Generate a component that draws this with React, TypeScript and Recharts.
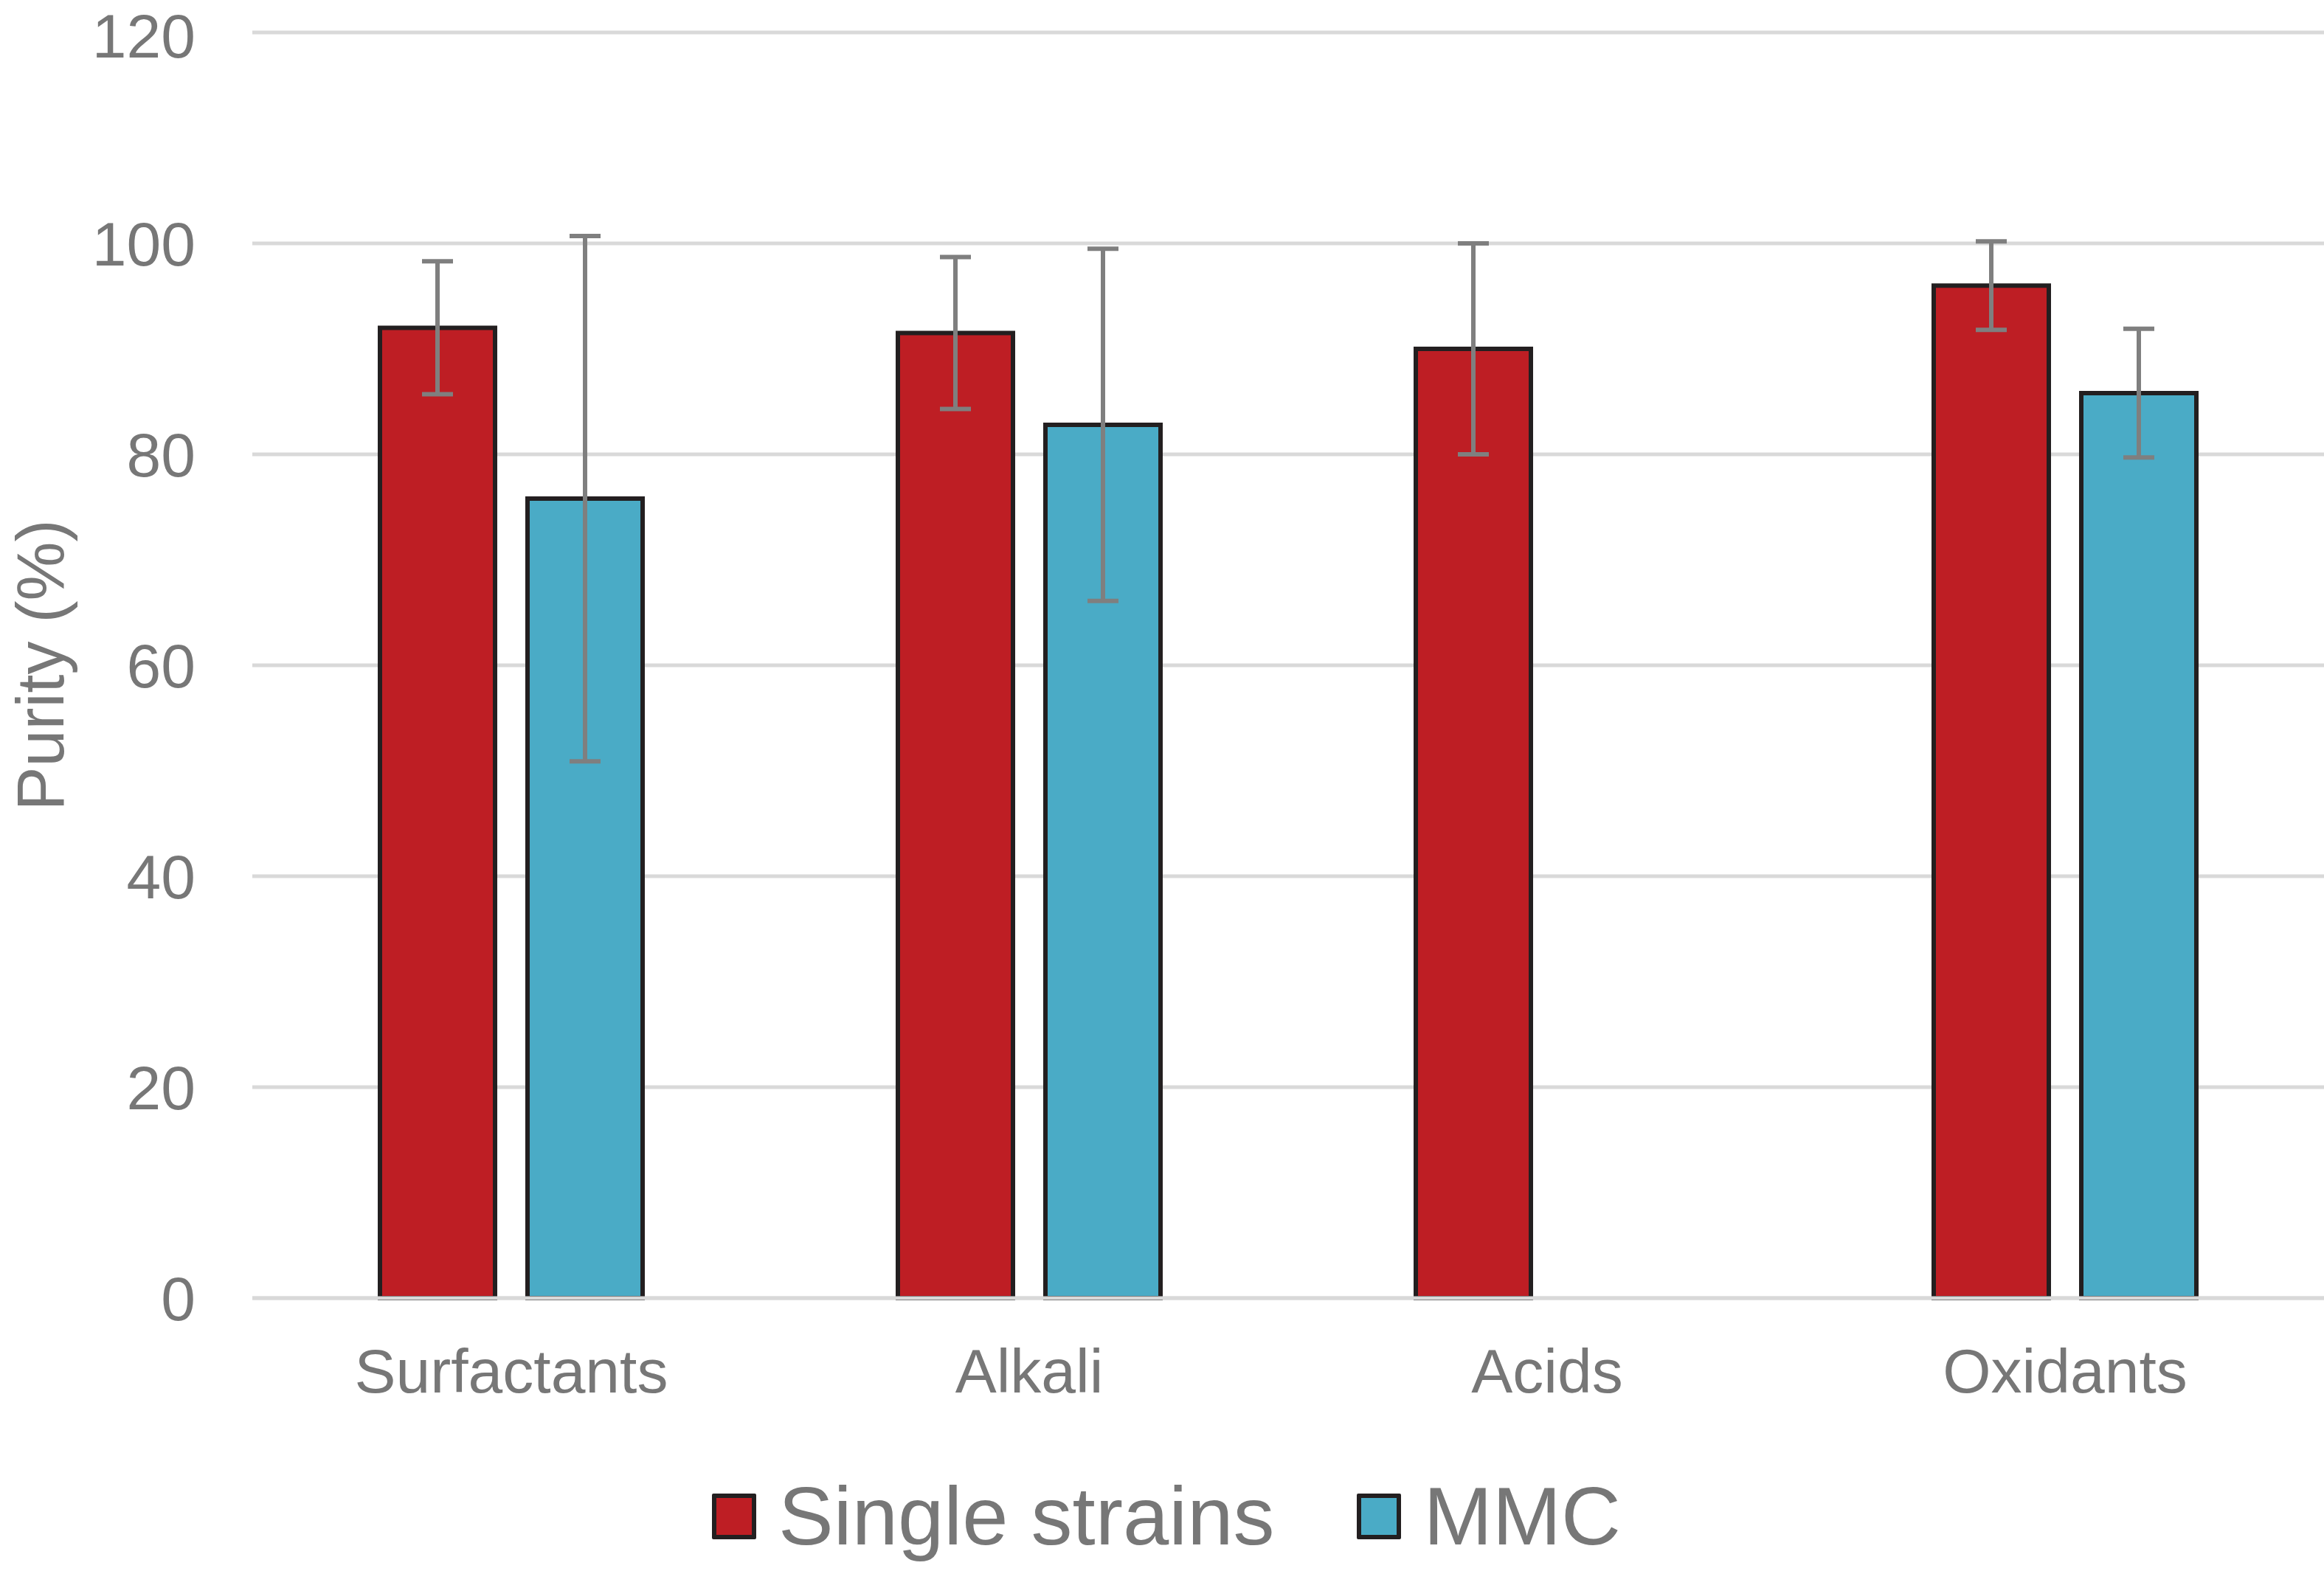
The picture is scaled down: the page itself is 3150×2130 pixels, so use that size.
import { BarChart, Bar, XAxis, YAxis, CartesianGrid, Legend, ErrorBar } from "recharts";

const categories = ["Surfactants", "Alkali", "Acids", "Oxidants"];
const seriesNames = ["Single strains", "MMC"];
const singleStrains = [92, 91.5, 90, 96];
const singleStrainsErr = [6.3, 7.2, 10, 4.2];
const mmc = [75.8, 82.8, null, 85.8];
const mmcErr = [24.9, 16.7, null, 6.1];
const yTicks = [0, 20, 40, 60, 80, 100, 120];

const data = categories.map((name, i) => ({
  name,
  single: singleStrains[i],
  singleErr: singleStrainsErr[i],
  mmc: mmc[i],
  mmcErr: mmcErr[i],
}));

const FONT = "'Liberation Sans', Arial, sans-serif";
const TEXT = "#777777";
const RED = "#be1e24";
const BLUE = "#4aabc6";
const EDGE = "#231f20";

function YLabel({ viewBox }: any) {
  const cx = (viewBox?.x ?? 0) + 86;
  const cy = (viewBox?.y ?? 0) + (viewBox?.height ?? 0) / 2;
  return (
    <text
      transform={`translate(${cx}, ${cy}) rotate(-90)`}
      textAnchor="middle"
      fill={TEXT}
      fontSize={90}
      fontFamily={FONT}
    >
      Purity (%)
    </text>
  );
}

function LegendBox({ payload }: any) {
  // keep the series order of the original chart (recharts sorts by name)
  const items = seriesNames
    .map((n) => (payload || []).find((p: any) => p.value === n))
    .filter(Boolean);
  return (
    <div
      style={{
        height: 170,
        boxSizing: "border-box",
        paddingTop: 22,
        paddingLeft: 12,
        display: "flex",
        justifyContent: "center",
        alignItems: "center",
        fontFamily: FONT,
      }}
    >
      {items.map((p: any, i: number) => (
        <div
          key={p.value}
          style={{ display: "flex", alignItems: "center", marginLeft: i ? 112 : 0 }}
        >
          <span
            style={{
              width: 48,
              height: 50,
              background: p.color,
              border: `6px solid ${EDGE}`,
              borderRadius: 2,
              marginRight: 30,
            }}
          />
          <span style={{ fontSize: 112, color: TEXT, lineHeight: 1.15 }}>{p.value}</span>
        </div>
      ))}
    </div>
  );
}

export default function App() {
  return (
    <div style={{ position: "absolute", left: 0, top: 0, width: 3150, height: 2130, background: "#fff" }}>
      <BarChart
        width={3150}
        height={2130}
        data={data}
        margin={{ top: 44, right: 0, bottom: 0, left: 0 }}
        barSize={156}
        barGap={44}
      >
        <CartesianGrid vertical={false} stroke="#d9d9d9" strokeWidth={5} />
        <XAxis
          dataKey="name"
          height={200}
          tickLine={false}
          tickSize={0}
          tickMargin={68}
          axisLine={{ stroke: "#d9d9d9", strokeWidth: 5 }}
          tick={{ fill: TEXT, fontSize: 84, fontFamily: FONT }}
        />
        <YAxis
          width={342}
          domain={[0, 120]}
          ticks={yTicks}
          axisLine={false}
          tickLine={false}
          tickSize={0}
          tickMargin={77}
          tick={{ fill: TEXT, fontSize: 84, fontFamily: FONT }}
          label={<YLabel />}
        />
        <Legend verticalAlign="bottom" height={170} content={<LegendBox />} />
        <Bar
          dataKey="single"
          name={seriesNames[0]}
          fill={RED}
          stroke={EDGE}
          strokeWidth={6}
          isAnimationActive={false}
        >
          <ErrorBar dataKey="singleErr" width={21} stroke="#7f7f7f" strokeWidth={6} />
        </Bar>
        <Bar
          dataKey="mmc"
          name={seriesNames[1]}
          fill={BLUE}
          stroke={EDGE}
          strokeWidth={6}
          isAnimationActive={false}
        >
          <ErrorBar dataKey="mmcErr" width={21} stroke="#7f7f7f" strokeWidth={6} />
        </Bar>
      </BarChart>
    </div>
  );
}
